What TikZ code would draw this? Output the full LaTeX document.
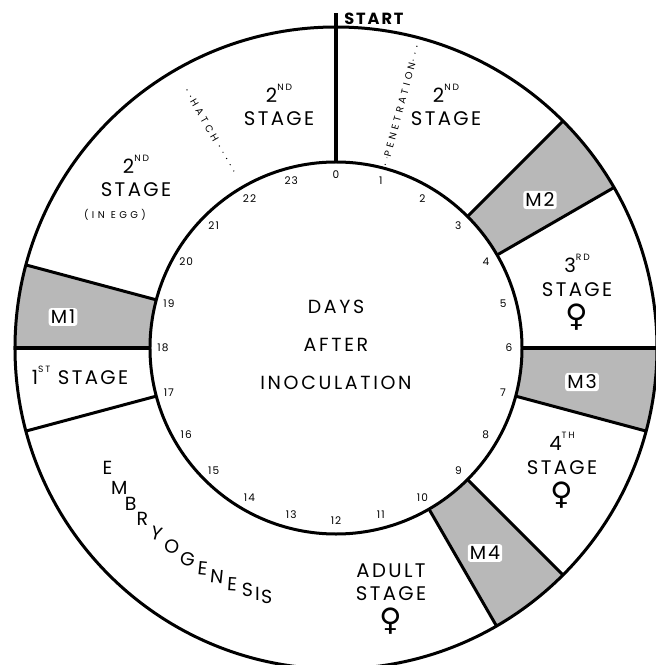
\documentclass[tikz,border=0pt]{standalone}
\usepackage{fontspec}
\setmainfont{Poppins}
\newfontfamily\symfont{DejaVu Sans}
\usetikzlibrary{positioning}

\newcommand{\sups}[1]{\raisebox{0.6em}{\fontsize{6.5}{6.5}\selectfont\addfontfeature{LetterSpace=20}#1}}
\newcommand{\fem}{{\symfont\fontsize{22}{22}\selectfont ♀}}

\tikzset{
  ring/.style={circle, draw, line width=0.75mm, inner sep=0pt, outer sep=0pt},
  divider/.style={line width=0.75mm},
  moult/.style={fill=black!28},
  stagelbl/.style={align=center, inner sep=0pt, font=\fontsize{14}{17}\selectfont\addfontfeature{LetterSpace=12}},
  mlbl/.style={fill=white, rounded corners=2pt, inner sep=1.5pt, font=\fontsize{13.5}{14}\selectfont\addfontfeature{LetterSpace=10}},
  daynum/.style={inner sep=0pt, font=\fontsize{7.5}{8}\selectfont\addfontfeature{LetterSpace=10}},
  tinytxt/.style={inner sep=0.5pt, font=\fontsize{7}{8}\selectfont\addfontfeature{LetterSpace=35}},
  embr/.style={inner sep=0pt, font=\fontsize{13.5}{14}\selectfont},
  dotline/.style={line width=0.35mm, line cap=round, dash pattern=on 0pt off 1.8mm},
}

\begin{document}
\begin{tikzpicture}[x=0.25mm, y=0.25mm]
\useasboundingbox (-336,-317) rectangle (320,348);

% moults
\foreach \a/\b in {30/45, -15/0, -60/-45, 165/180}
  \fill[moult] (\a:186) arc[start angle=\a, end angle=\b, radius=186]
    -- (\b:321) arc[start angle=\b, end angle=\a, radius=321] -- cycle;

\node[ring, minimum size=160.5mm] (outer) at (0,0) {};
\node[ring, minimum size=93mm] (inner) at (0,0) {};

% stage borders
\foreach \a in {45,30,0,-15,-45,-60,165,180,195}
  \draw[divider] (inner.\a) -- (outer.\a);

% start
\coordinate (starttip) at (0,335);
\draw[line width=1mm] (inner.90) -- (starttip);
\node[inner sep=0pt, anchor=west, font=\bfseries\fontsize{11.5}{12}\selectfont\addfontfeature{LetterSpace=12}]
  (start) at ([xshift=2mm,yshift=-1.5mm]starttip) {START};

% days
\foreach \d in {0,...,23}
  \node[daynum] (d\d) at ({90-15*\d}:173) {\d};

\node[stagelbl, font=\fontsize{13.5}{27}\selectfont\addfontfeature{LetterSpace=14}]
  (days) at (0,3) {DAYS\\AFTER\\INOCULATION};

% stages
\node[stagelbl] (s2egg) at (-200,172) {2\sups{ND}\\STAGE};
\node[tinytxt] (egg) at (-221,133) {(IN EGG)};
\node[stagelbl] (s2a) at (-57,243) {2\sups{ND}\\STAGE};
\node[stagelbl] (s2b) at (110,243) {2\sups{ND}\\STAGE};
\node[stagelbl] (s3) at (241,56) {3\sups{RD}\\STAGE\\[1.5mm]\fem};
\node[stagelbl] (s4) at (226,-122) {4\sups{TH}\\STAGE\\[1.5mm]\fem};
\node[stagelbl] (adult) at (55,-251) {ADULT\\STAGE\\[1.5mm]\fem};
\node[stagelbl] (s1) at (-256,-27) {1\sups{ST} STAGE};

\node[mlbl] (m1) at (-273,31) {M1};
\node[mlbl] (m2) at (204,148) {M2};
\node[mlbl] (m3) at (246,-34) {M3};
\node[mlbl] (m4) at (149,-205) {M4};

% penetration and hatch
\path (75:190) coordinate (pen0) (75:316) coordinate (pen1);
\draw[dotline] (pen0) -- node[tinytxt, sloped, fill=white, pos=0.45] (pen) {PENETRATION} (pen1);
\path (120:298) coordinate (hat0) (120:200) coordinate (hat1);
\draw[dotline] (hat0) -- node[tinytxt, sloped, fill=white, pos=0.36] (hatch) {HATCH} (hat1);

% embryogenesis
\foreach \l/\a/\r [count=\i] in {E/207.6/0, M/212.9/0, B/217.3/0, R/221.4/0,
    Y/225.9/-15, O/230.5/-12, G/234.9/-10, E/238.9/-6, N/242.5/-6,
    E/246.3/-4, S/249.9/0, I/252.3/0, S/254.4/0}
  \node[embr, rotate=\r] (em\i) at (\a:258) {\l};
\end{tikzpicture}
\end{document}
